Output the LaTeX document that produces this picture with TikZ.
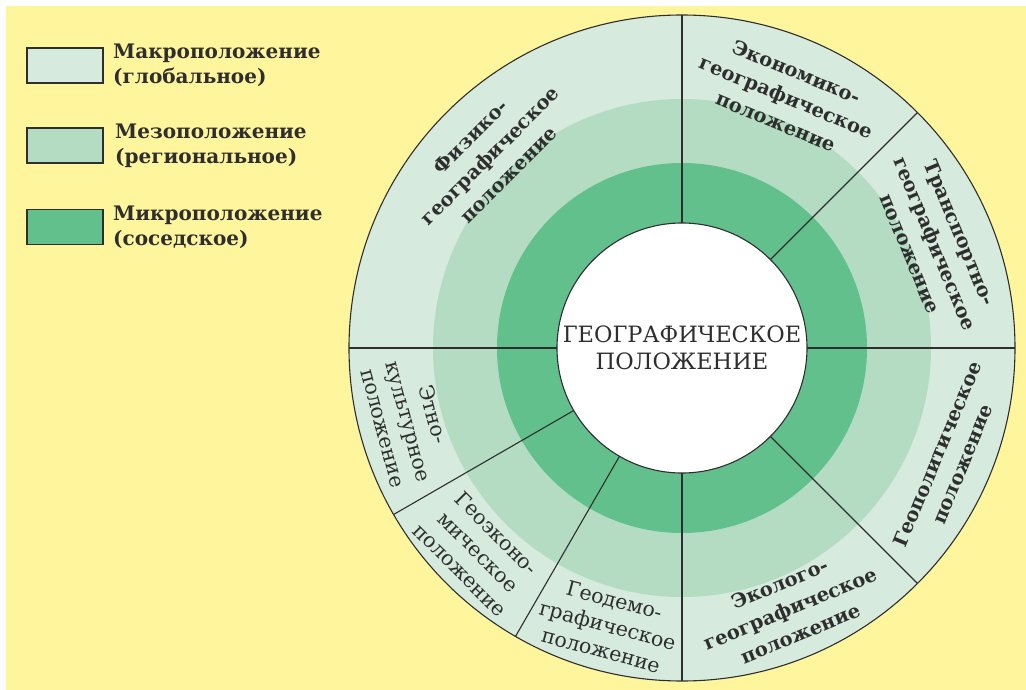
\documentclass[tikz,border=0pt]{standalone}
\usepackage{fontspec}
\setmainfont{DejaVu Serif}
\definecolor{paper}{HTML}{FFF59C}
\definecolor{macro}{HTML}{D6EBDE}
\definecolor{meso}{HTML}{B3DCC3}
\definecolor{micro}{HTML}{62C08C}
\definecolor{ink}{HTML}{2E2E2E}
\tikzset{
  legbox/.style={draw=ink, line width=1.4pt, minimum width=76pt, minimum height=35pt, inner sep=0pt},
  legtext/.style={anchor=west, align=left, inner sep=0pt, text=ink,
    font=\bfseries\fontsize{20}{25}\selectfont},
  boldlabel/.style={align=center, inner sep=0pt, text=ink,
    font=\bfseries\fontsize{19.5}{27}\selectfont},
  plainlabel/.style={align=center, inner sep=0pt, text=ink,
    font=\fontsize{20.5}{26}\selectfont},
  divider/.style={draw=ink, line width=1.1pt},
}
\begin{document}
\begin{tikzpicture}[x=1pt, y=1pt]
  \useasboundingbox (0,0) rectangle (1026,-690);
  \fill[white] (0,0) rectangle (1026,-690);
  \fill[paper] (6,-6) rectangle (1026,-690);

  % legend
  \node[legbox, fill=macro] (lmacro) at (65,-65.5) {};
  \node[legtext] (tmacro) at (113,-65.5) {Макроположение\\(глобальное)};
  \node[legbox, fill=meso] (lmeso) at (65,-145.5) {};
  \node[legtext] (tmeso) at (115,-145.5) {Мезоположение\\(региональное)};
  \node[legbox, fill=micro] (lmicro) at (65,-227) {};
  \node[legtext] (tmicro) at (113,-227) {Микроположение\\(соседское)};

  % concentric rings
  \begin{scope}[shift={(682,-348)}]
    \fill[macro] (0,0) circle[radius=333];
    \fill[meso] (0,0) circle[radius=249];
    \fill[micro] (0,0) circle[radius=185];
    \foreach \a in {0,45,90,180,210,240,270,315}
      \draw[divider] (\a:125) -- (\a:333);
    \draw[divider] (0,0) circle[radius=333];
    \node[draw=ink, line width=1.1pt, fill=white, circle, minimum size=250pt, inner sep=0pt,
      align=center, text=ink, font=\fontsize{22.5}{27}\selectfont] (core) at (0,0)
      {ГЕОГРАФИЧЕСКОЕ\\ПОЛОЖЕНИЕ};

    % sector labels
    \node[boldlabel, rotate=45] (phys) at (135:272) {Физико-\\географическое\\положение};
    \node[boldlabel, rotate=-22.5] (econ) at (67.5:272) {Экономико-\\географическое\\положение};
    \node[boldlabel, rotate=-67.5] (trans) at (22.5:274) {Транспортно-\\географическое\\положение};
    \node[boldlabel, rotate=67.5] (geopol) at (-22.5:290) {Геополитическое\\положение};
    \node[boldlabel, rotate=22.5] (ecol) at (-67.5:282) {Эколого-\\географическое\\положение};
    \node[plainlabel, rotate=-15] (demo) at (-105:287) {Геодемо-\\графическое\\положение};
    \node[plainlabel, rotate=-45] (geoec) at (-135:288) {Геоэконо-\\мическое\\положение};
    \node[plainlabel, rotate=-75] (ethno) at (-165:283) {Этно-\\культурное\\положение};
  \end{scope}
\end{tikzpicture}
\end{document}
